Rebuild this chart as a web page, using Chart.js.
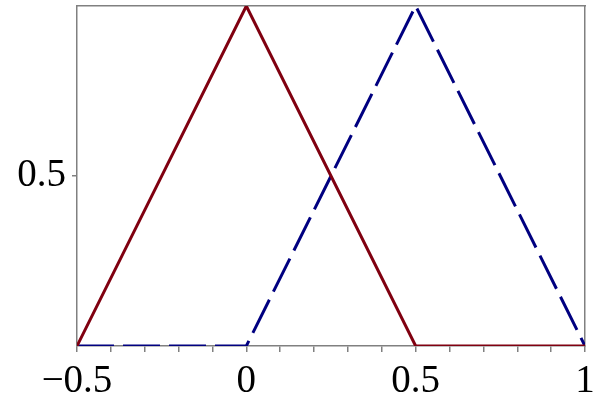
<!DOCTYPE html>
<html>
<head>
<meta charset="utf-8">
<script src="https://cdn.jsdelivr.net/npm/chart.js@4"></script>
<style>
html,body{margin:0;padding:0;background:#fff;}
#wrap{width:600px;height:412px;}
</style>
</head>
<body>
<div id="wrap"><canvas id="c" width="600" height="412"></canvas></div>
<script>
const xValues = [-0.5, 0, 0.5, 1];
const redValues = [0, 1, 0, 0];
const blueValues = [0, 0, 1, 0];
const xTickValues = [-0.5, 0, 0.5, 1];
const xTickLabels = ['\u22120.5', '0', '0.5', '1'];
const yTickValues = [0.5];
const yTickLabels = ['0.5'];

const grey = 'rgb(128,128,128)';
const font = {family: '"Liberation Serif", "Times New Roman", serif', size: 39};

function pts(ys){ return xValues.map((x,i)=>({x:x, y:ys[i]})); }
function noPad(s){ s.paddingTop = 0; s.paddingBottom = 0; s.paddingLeft = 0; s.paddingRight = 0; }

new Chart(document.getElementById('c'), {
  type: 'line',
  data: {
    datasets: [
      {data: pts(redValues), borderColor: 'rgb(128,0,16)', borderWidth: 3, pointRadius: 0, fill: false, tension: 0},
      {data: pts(blueValues), borderColor: 'rgb(0,0,128)', borderWidth: 3, borderDash: [37, 9], pointRadius: 0, fill: false, tension: 0}
    ]
  },
  options: {
    responsive: false,
    animation: false,
    layout: {padding: {top: 6, right: 15, left: 0, bottom: 0}},
    plugins: {legend: {display: false}, tooltip: {enabled: false}},
    scales: {
      x: {
        type: 'linear', position: 'bottom', min: -0.5, max: 1,
        afterBuildTicks: s => { const t=[]; for(let i=-5;i<=10;i++) t.push({value: i/10}); s.ticks = t; },
        ticks: {
          autoSkip: false, maxRotation: 0, color: '#000', font: font, padding: 6,
          callback: v => { const k = xTickValues.findIndex(t => Math.abs(t - v) < 1e-9); return k >= 0 ? xTickLabels[k] : ''; }
        },
        grid: {drawOnChartArea: false, drawTicks: true, tickLength: 6, color: grey, lineWidth: 1.5},
        border: {display: true, color: grey, width: 1.5},
        afterFit: s => { s.height = 66; noPad(s); }
      },
      y: {
        type: 'linear', position: 'left', min: 0, max: 1,
        afterBuildTicks: s => { s.ticks = yTickValues.map(v => ({value: v})); },
        ticks: {
          color: '#000', font: font, padding: 6,
          callback: v => { const k = yTickValues.findIndex(t => Math.abs(t - v) < 1e-9); return k >= 0 ? yTickLabels[k] : ''; }
        },
        grid: {drawOnChartArea: false, drawTicks: true, tickLength: 5, color: grey, lineWidth: 1.5},
        border: {display: true, color: grey, width: 1.5},
        afterFit: s => { s.width = 77; noPad(s); }
      },
      x2: {
        type: 'linear', position: 'top', min: -0.5, max: 1,
        ticks: {display: false}, grid: {display: false},
        border: {display: true, color: grey, width: 1.5},
        afterFit: s => { s.height = 0; noPad(s); }
      },
      y2: {
        type: 'linear', position: 'right', min: 0, max: 1,
        ticks: {display: false}, grid: {display: false},
        border: {display: true, color: grey, width: 1.5},
        afterFit: s => { s.width = 0; noPad(s); }
      }
    }
  }
});
</script>
</body>
</html>
